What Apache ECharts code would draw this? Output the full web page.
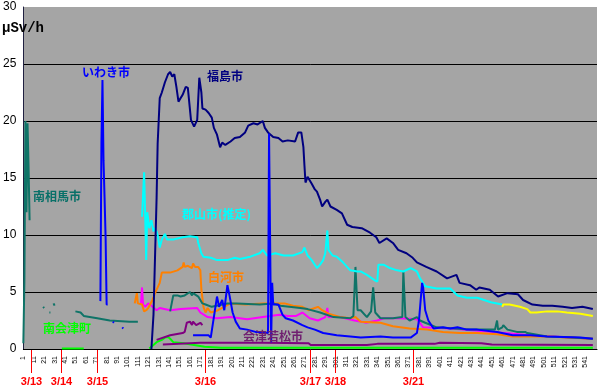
<!DOCTYPE html>
<html><head><meta charset="utf-8">
<script src="https://cdn.jsdelivr.net/npm/echarts@6/dist/echarts.min.js"></script>
<style>html,body{margin:0;padding:0;background:#fff}#c{width:601px;height:391px}</style>
</head><body><div id="c"></div><script>
// category labels 1..552 (one every reading)
const categories = Array.from({length:552},(_,i)=>String(i+1));
const lastLabel = 541;
const yMax = 30, yStep = 5;
// date markers under the axis
const dateLabels = ['3/13','3/14','3/15','3/16','3/17','3/18','3/21'];
const dateIdx = [7,36,71,174,275,299,374];

// series values: [reading index, μSv/h]
const fukushima = [[123,0],[125,3],[128,13.3],[129,18],[131,22],[133,22.5],[136,23.4],[139,24.1],[141,24.3],[143,23.9],[145,24.1],[147,23],[149,21.7],[153,22.3],[156,23],[158,22.9],[161,20.1],[164,19.5],[167,20.1],[169,23.8],[171,22.5],[172,21.1],[175,21],[178,20.7],[181,20.3],[183,19.4],[186,18.8],[189,17.7],[191,18.1],[194,17.9],[199,18.2],[203,18.5],[208,18.6],[213,19.0],[216,19.6],[221,19.8],[225,19.7],[230,20.0],[232,19.4],[235,19.0],[240,18.6],[245,18.5],[249,18.2],[254,18.3],[261,18.2],[264,19.0],[267,19.0],[269,17.7],[270,16.1],[271,14.6],[273,15.1],[275,14.8],[277,14.5],[280,14.0],[282,13.8],[285,13.1],[287,12.5],[290,12.9],[292,13.1],[295,12.5],[301,12.2],[306,11.9],[311,10.9],[316,10.7],[325,10.6],[333,10.2],[339,9.8],[342,9.3],[349,9.7],[355,9.3],[360,8.7],[368,8.4],[374,8.0],[378,7.6],[387,7.2],[397,6.8],[407,6.2],[416,6.5],[419,5.8],[429,5.6],[435,5.2],[438,5.4],[448,5.2],[456,4.6],[465,4.9],[475,4.8],[480,4.3],[489,3.9],[499,3.8],[508,3.8],[518,3.7],[527,3.6],[537,3.7],[547,3.5]];
const iwaki = [[74,4.2],[75,18.1],[76,23.6],[77,16.5],[78,13.3],[79,9.8],[80,3.9],[81,3.9],[82,'-'],[86,2.4],[87,2.3],[88,'-'],[95,1.9],[96,1.8],[97,'-'],
 [163,1.2],[178,1.2],[180,1.0],[186,4.6],[188,3.7],[191,4.3],[193,3.4],[196,5.6],[198,4.7],[201,3.2],[204,2.4],[208,1.8],[215,1.7],[223,1.5],[230,1.5],[235,1.4],[236,18.9],[237,18.9],[238,0.6],[239,5.8],[240,3.9],[245,3.9],[249,3.0],[252,2.7],[259,2.5],[268,2.1],[273,1.9],[280,1.7],[288,1.4],[301,1.2],[314,1.1],[324,1.0],[343,1.1],[355,1.0],[372,1.0],[378,1.4],[380,2.5],[383,5.8],[384,5.4],[386,3.4],[389,2.5],[394,1.8],[403,1.9],[410,1.8],[417,1.9],[426,1.7],[436,1.7],[455,1.5],[470,1.2],[487,1.2],[503,1.1],[535,1.0],[547,0.9]];
const minamisoma = [[0,0.5],[1,6.0],[2,20],[3,12],[4,19.8],[5,16],[6,11.3],[7,'-'],[19,3.7],[20,3.6],[21,'-'],[25,3.2],[26,3.2],[27,'-'],[29,4.0],[30,3.8],[31,'-'],
 [50,3.3],[55,3.2],[58,2.9],[71,2.7],[83,2.5],[102,2.4],[110,2.4],[111,'-'],
 [141,3.3],[144,4.7],[148,4.7],[151,4.6],[155,4.7],[160,5.0],[162,4.7],[163,4.9],[168,4.6],[172,4.0],[175,3.9],[181,3.7],[196,4.0],[205,4.0],[227,3.9],[240,4.0],[247,3.8],[266,3.6],[273,3.5],[285,3.2],[298,2.8],[314,2.7],[317,2.9],[319,7.2],[321,3.4],[324,3.4],[330,2.8],[334,3.3],[336,5.4],[338,3.2],[343,2.7],[355,2.7],[364,2.8],[365,6.8],[367,2.8],[371,2.5],[378,2.8],[381,2.5],[386,2.3],[397,1.9],[413,1.8],[429,1.7],[453,1.7],[455,2.5],[456,1.7],[460,1.9],[461,2.1],[465,1.7],[474,1.5],[482,1.5],[484,1.4],[503,1.1],[528,1.0],[547,0.9]];
const koriyama = [[114,11.6],[116,15.5],[117,11.9],[118,7.8],[119,12],[121,10.6],[123,11.3],[125,10.3],[126,10.6],[128,10.3],[129,10],[131,8.9],[133,9.6],[136,10.1],[138,9.6],[144,9.6],[153,9.8],[160,9.9],[167,9.8],[168,9.3],[171,8.4],[173,8.1],[180,8.0],[186,7.8],[196,7.8],[203,8.0],[208,7.9],[218,8.1],[227,8.4],[230,8.7],[234,8.2],[242,8.4],[250,8.2],[259,8.2],[268,8.5],[270,8.9],[273,8.2],[277,7.8],[282,7.1],[285,7.4],[288,7.8],[290,8.4],[292,10.4],[293,8.7],[297,8.2],[301,8.1],[307,7.6],[314,6.9],[321,6.8],[324,6.8],[330,6.5],[338,6.0],[340,5.9],[341,7.4],[346,7.4],[352,7.1],[359,6.9],[365,6.8],[372,7.1],[378,6.8],[381,6.2],[386,5.5],[397,5.3],[410,5.3],[417,4.7],[426,4.5],[436,4.5],[449,4.1],[460,3.9]];
const shirakawa = [[107,4.0],[109,4.9],[110,4.0],[114,3.9],[116,3.3],[118,3.4],[120,3.6],[124,4.3],[127,5.0],[129,5.4],[131,5.8],[133,6.7],[134,6.8],[141,6.7],[148,6.9],[153,7.2],[154,7.6],[155,7.2],[158,7.3],[162,7.1],[163,7.5],[165,7.2],[168,7.2],[170,6.9],[171,5.2],[173,3.7],[175,3.2],[177,3.6],[180,3.2],[187,3.4],[199,4.0],[213,3.9],[230,4.0],[251,4.0],[259,3.8],[268,3.7],[274,3.4],[280,3.6],[283,3.7],[287,3.4],[293,3.1],[304,2.8],[314,2.7],[319,2.8],[324,2.4],[343,2.3],[355,2.0],[371,1.8],[388,1.7],[403,1.5],[419,1.4],[436,1.4],[455,1.3],[470,1.1],[487,1.1],[503,1.1],[547,0.9]];
const magentaSeries = [[113,4.0],[114,5.4],[115,3.9],[117,3.7],[120,4.0],[123,3.8],[128,3.4],[131,3.6],[141,3.4],[151,3.5],[167,3.6],[170,3.2],[177,2.8],[186,2.7],[199,2.8],[215,2.6],[230,2.8],[246,3.0],[254,2.9],[262,2.9],[268,3.2],[275,2.7],[283,2.5],[290,2.8],[292,3.6],[293,2.8],[304,2.8],[318,2.5],[325,2.4],[329,2.3],[340,2.5],[346,2.7],[362,2.7],[378,2.6],[380,2.4],[384,1.9],[410,1.8],[451,1.5],[487,1.2],[547,0.9]];
const aizuRise = [[128,0.8],[141,1.2],[153,1.4],[155,1.5],[157,2.3],[160,2.4],[162,2.1],[163,2.4],[166,2.1],[170,2.3],[172,2.1]];
const aizuwakamatsu = [[134,0.4],[170,0.55],[230,0.55],[274,0.5],[276,0.35],[330,0.35],[340,0.45],[395,0.45],[400,0.55],[440,0.5],[450,0.4],[547,0.35]];
const minamiaizu = [[37,0.05],[58,0.05],[59,'-'],[121,0.05],[128,0.6],[133,0.8],[136,1.0],[139,1.05],[141,0.9],[144,0.6],[154,0.5],[164,0.35],[174,0.2],[190,0.1],[547,0.1]];
const yellowSeries = [[460,3.7],[461,3.9],[467,3.9],[477,3.7],[484,3.5],[487,3.2],[493,3.2],[503,3.3],[513,3.3],[522,3.2],[535,3.1],[547,2.9]];

const seriesLabels = [
  {text:'いわき市', x:82, y:72, color:'#0000ff'},
  {text:'福島市', x:207, y:76, color:'#000080'},
  {text:'南相馬市', x:33, y:196, color:'#087068'},
  {text:'郡山市(推定)', x:182, y:214, color:'#00ffff'},
  {text:'白河市', x:208, y:277, color:'#ff8000'},
  {text:'会津若松市', x:243, y:336, color:'#702070'},
  {text:'南会津町', x:43, y:328, color:'#00ff00'}
];

function line(name, data, color, z){
  return {name, type:'line', data, symbol:'none', showSymbol:false, connectNulls:false,
    lineStyle:{color, width:2}, itemStyle:{color}, z: z||2, animation:false};
}

const chart = echarts.init(document.getElementById('c'), null, {renderer:'canvas'});
chart.setOption({
  animation:false,
  backgroundColor:'#ffffff',
  grid:{left:23, right:4, top:7, bottom:42, show:true, backgroundColor:'#a5a5a5', borderWidth:0},
  xAxis:{type:'category', data:categories, boundaryGap:false,
    axisLine:{show:true, lineStyle:{color:'#000', width:1}},
    axisTick:{show:false},
    axisLabel:{interval:(i)=> i%10===0 && i+1<=lastLabel, rotate:90, fontSize:7, color:'#000', margin:7, fontFamily:'Liberation Sans'},
    splitLine:{show:false}},
  yAxis:{type:'value', min:0, max:yMax, interval:yStep,
    axisLine:{show:true, lineStyle:{color:'#202040', width:1}},
    axisTick:{show:false},
    axisLabel:{fontSize:12, color:'#000', margin:7, fontFamily:'Liberation Sans'},
    splitLine:{show:true, showMaxLine:false, showMinLine:false, lineStyle:{color:'#000', width:1}}},
  series:[
    line('南会津町', minamiaizu, '#00ff00', 2),
    line('会津若松市', aizuwakamatsu, '#800080', 3),
    line('会津若松市2', aizuRise, '#800080', 3),
    line('magenta', magentaSeries, '#ff00ff', 4),
    line('白河市', shirakawa, '#ff8000', 5),
    line('南相馬市', minamisoma, '#0f7468', 6),
    line('郡山市(推定)', koriyama, '#00ffff', 7),
    line('yellow', yellowSeries, '#ffff00', 7),
    line('福島市', fukushima, '#000080', 8),
    line('いわき市', iwaki, '#0000ff', 9)
  ]
});

const g = [];
g.push({type:'text', x:2, y:28, z:20, style:{text:'μSv/h', font:'bold 14px "Liberation Mono", monospace', fill:'#000', textVerticalAlign:'middle'}});
seriesLabels.forEach(l=>{
  g.push({type:'text', x:l.x, y:l.y, z:20, style:{text:l.text, font:'bold 12px "Noto Sans CJK JP", sans-serif', fill:l.color, textVerticalAlign:'middle'}});
});
const y0 = chart.convertToPixel({yAxisIndex:0}, 0);
dateIdx.forEach((d,i)=>{
  const px = Math.round(chart.convertToPixel({xAxisIndex:0}, d)) + 0.5;
  g.push({type:'line', z:20, shape:{x1:px, y1:y0+1, x2:px, y2:373}, style:{stroke:'#ff0000', lineWidth:1}});
  g.push({type:'text', z:20, x:px, y:382, style:{text:dateLabels[i], font:'bold 11px "Liberation Sans", sans-serif', fill:'#ff0000', textAlign:'center', textVerticalAlign:'middle'}});
});
chart.setOption({graphic:g});
</script></body></html>
